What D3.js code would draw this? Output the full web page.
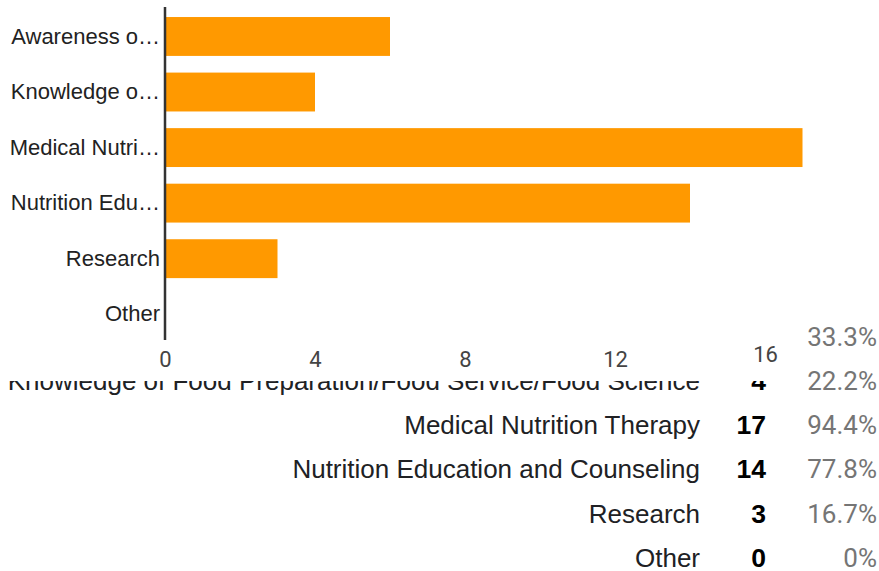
<html>
<head>
	<script src="https://d3js.org/d3.v7.min.js"></script>
	<style>
		body { margin: 0; background: #fff; }
		text { font-family: "Liberation Sans", Arial, sans-serif; }
	</style>
</head>
<body>
	<svg></svg>
</body>
<script type="text/javascript">
	// answers to the checkbox question, 18 responses
	var axisLabels = ["Awareness o\u2026", "Knowledge o\u2026", "Medical Nutri\u2026", "Nutrition Edu\u2026", "Research", "Other"];
	var tableLabels = ["Awareness of Food and Nutrition Issues",
		"Knowledge of Food Preparation/Food Service/Food Science",
		"Medical Nutrition Therapy", "Nutrition Education and Counseling", "Research", "Other"];
	var counts = [6, 4, 17, 14, 3, 0];
	var percents = ["33.3%", "22.2%", "94.4%", "77.8%", "16.7%", "0%"];
	var xTicks = [0, 4, 8, 12, 16];

	var width = 879, height = 571;
	var margin = {"left":165, "top":8.7, "right":76.5, "bottom":229};

	var svg = d3.select("svg")
		.attr("width", width)
		.attr("height", height);

	var rows = counts.map(function(c, i){
		return {"axis":axisLabels[i], "label":tableLabels[i], "count":c, "pct":percents[i]};
	});

	// summary table (sits underneath the chart)
	var rowY = d3.scaleLinear().domain([0, 5]).range([345.5, 567]);
	var table = svg.append("g");
	var tr = table.selectAll("g.row")
		.data(rows)
		.enter().append("g")
		  .attr("class", "row")
		  .attr("transform", function(d, i){ return "translate(0," + rowY(i) + ")"; });
	tr.append("text")
		.attr("x", 700).attr("text-anchor", "end")
		.attr("font-size", 26).attr("fill", "#202124")
		.text(function(d){ return d.label; });
	tr.append("text")
		.attr("x", 766).attr("text-anchor", "end")
		.attr("font-size", 26.5).attr("font-weight", "bold").attr("fill", "#000")
		.text(function(d){ return d.count; });
	tr.append("text")
		.attr("x", 877).attr("text-anchor", "end")
		.attr("font-size", 26).attr("fill", "#757575")
		.style("font-family", "Roboto, sans-serif")
		.text(function(d){ return d.pct; });

	// bar chart on top
	var chart = svg.append("g");
	chart.append("rect")
		.attr("x", 0).attr("y", 0)
		.attr("width", 802).attr("height", 381)
		.attr("fill", "#fff");

	var x = d3.scaleLinear()
		.domain([0, 17])
		.range([margin.left, width - margin.right]);
	var y = d3.scaleBand()
		.domain(axisLabels)
		.range([margin.top, height - margin.bottom])
		.paddingInner(0.3)
		.paddingOuter(0.15);

	chart.selectAll(".bar")
		.data(rows)
		.enter().append("rect")
		  .attr("class", "bar")
		  .attr("x", x(0))
		  .attr("y", function(d){ return y(d.axis); })
		  .attr("width", function(d){ return x(d.count) - x(0); })
		  .attr("height", y.bandwidth())
		  .attr("fill", "#ff9900");

	var xAxis = chart.append("g")
		.attr("transform", "translate(0,345)")
		.call(d3.axisBottom(x).tickValues(xTicks).tickSize(0).tickPadding(0));
	xAxis.select(".domain").remove();
	xAxis.selectAll("text")
		.attr("dy", 0)
		.attr("y", function(d){ return d == 16 ? 17 : 22; })
		.attr("font-size", 22).attr("fill", "#444")
		.style("font-family", "Roboto, sans-serif");

	var yAxis = chart.append("g")
		.attr("transform", "translate(" + margin.left + ",0)")
		.call(d3.axisLeft(y).tickSize(0).tickPadding(5));
	yAxis.select(".domain").remove();
	yAxis.selectAll("text")
		.attr("font-size", 22).attr("fill", "#222")
		.style("font-family", "\"Liberation Sans\", Arial, sans-serif");

	chart.append("line")
		.attr("x1", x(0)).attr("x2", x(0))
		.attr("y1", 7).attr("y2", 340)
		.attr("stroke", "#333").attr("stroke-width", 2.5);
</script>
</html>
